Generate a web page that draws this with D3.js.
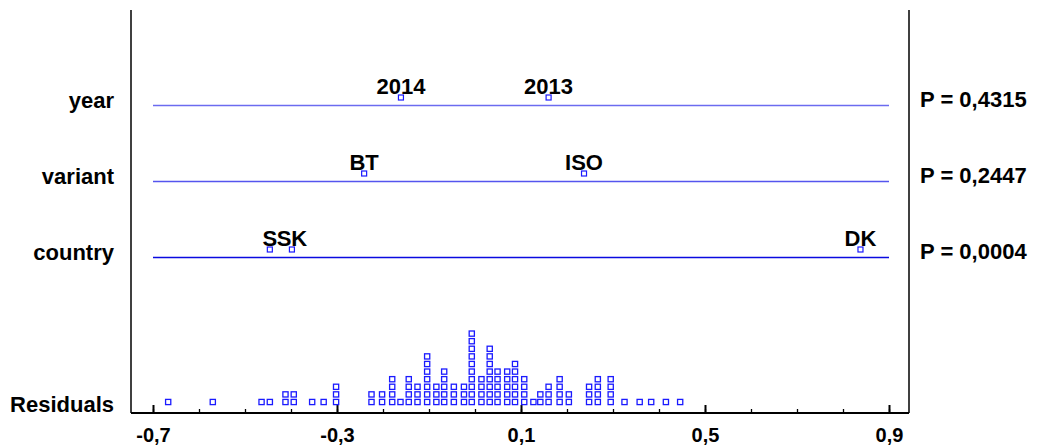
<!DOCTYPE html>
<html>
<head>
<meta charset="utf-8">
<script src="https://cdn.jsdelivr.net/npm/d3@7/dist/d3.min.js"></script>
<style>
  html, body { margin: 0; padding: 0; background: #fff; }
  svg { display: block; }
  text { font-family: "Liberation Sans", Arial, sans-serif; font-weight: bold; fill: #000; }
</style>
</head>
<body>
<svg id="chart" width="1037" height="448"></svg>
<script>
// Effects in the model and their p-values
const effectNames = ["year", "variant", "country"];
const pValues = ["0,4315", "0,2447", "0,0004"];
const effectColors = ["#6b6bf0", "#5555ee", "#0a0ae0"];

// Estimated level effects per factor
const yearLevels = ["2014", "2013"];
const yearEffects = [-0.161, 0.160];
const variantLevels = ["BT", "ISO"];
const variantEffects = [-0.241, 0.237];
const countryLevels = ["S", "SK", "DK"];
const countryEffects = [-0.446, -0.398, 0.838];

// Residual dot plot: bin centres and number of residuals in each bin
const residualBins = [-0.667, -0.570, -0.464, -0.446, -0.412, -0.394, -0.354, -0.329, -0.302,
  -0.225, -0.202, -0.180, -0.162, -0.144, -0.125, -0.104, -0.084, -0.067, -0.046, -0.024,
  -0.007, 0.014, 0.032, 0.049, 0.070, 0.087, 0.107, 0.127, 0.142, 0.160, 0.184, 0.204,
  0.248, 0.267, 0.295, 0.325, 0.358, 0.383, 0.415, 0.446];
const residualCounts = [1, 1, 1, 1, 2, 2, 1, 1, 3,
  2, 2, 4, 1, 4, 3, 7, 3, 5, 3, 3,
  10, 4, 8, 5, 5, 6, 4, 1, 2, 3, 4, 2,
  3, 4, 4, 1, 1, 1, 1, 1];

// Axis ticks
const majorTicks = [-0.7, -0.3, 0.1, 0.5, 0.9];
const minorTicks = [-0.7, -0.6, -0.5, -0.4, -0.3, -0.2, -0.1, 0, 0.1, 0.2, 0.3, 0.4, 0.5, 0.6, 0.7, 0.8, 0.9];

const svg = d3.select("#chart");
const frame = { left: 131, right: 909, top: 10, bottom: 413 };
const labelSize = 22;

const x = d3.scaleLinear().domain([-0.7, 0.9]).range([153, 889]);
const rowY = d3.scalePoint().domain(effectNames).range([105.5, 257.5]);
const stackY = d3.scaleLinear().domain([0, 10]).range([402, 326]);

const locale = d3.formatLocale({ decimal: ",", thousands: ".", grouping: [3], currency: ["", ""], minus: "-" });
const fmt = locale.format(".1f");

// Frame: side lines and bottom axis line
svg.append("line").attr("x1", frame.left).attr("x2", frame.left)
  .attr("y1", frame.top).attr("y2", frame.bottom).attr("stroke", "#000").attr("stroke-width", 1.5);
svg.append("line").attr("x1", frame.right).attr("x2", frame.right)
  .attr("y1", frame.top).attr("y2", frame.bottom).attr("stroke", "#000").attr("stroke-width", 1.5);
svg.append("line").attr("x1", frame.left).attr("x2", frame.right)
  .attr("y1", frame.bottom).attr("y2", frame.bottom).attr("stroke", "#000").attr("stroke-width", 2);

// Minor ticks
const minorAxis = d3.axisBottom(x).tickValues(minorTicks).tickSizeInner(-4).tickSizeOuter(0).tickFormat("");
svg.append("g").attr("transform", `translate(0,${frame.bottom})`).call(minorAxis)
  .call(g => g.select(".domain").remove())
  .call(g => g.selectAll(".tick line").attr("stroke", "#000").attr("stroke-width", 1.3));

// Major ticks with labels
const majorAxis = d3.axisBottom(x).tickValues(majorTicks).tickSizeInner(-8).tickSizeOuter(0)
  .tickPadding(15).tickFormat(fmt);
svg.append("g").attr("transform", `translate(0,${frame.bottom})`).call(majorAxis)
  .call(g => g.select(".domain").remove())
  .call(g => g.selectAll(".tick line").attr("stroke", "#000").attr("stroke-width", 2))
  .call(g => g.selectAll(".tick text").attr("font-size", 20)
    .attr("font-family", "'Liberation Sans', Arial, sans-serif").attr("font-weight", "bold").attr("fill", "#000"));

// Effect rows
const rows = [
  { name: "year", levels: yearLevels, effects: yearEffects },
  { name: "variant", levels: variantLevels, effects: variantEffects },
  { name: "country", levels: countryLevels, effects: countryEffects }
];

rows.forEach((row, i) => {
  const y0 = rowY(row.name);
  svg.append("line").attr("x1", x(-0.7)).attr("x2", x(0.9))
    .attr("y1", y0).attr("y2", y0).attr("stroke", effectColors[i]).attr("stroke-width", 1.6);

  svg.append("text").attr("x", 114).attr("y", y0 + 2).attr("text-anchor", "end")
    .attr("font-size", labelSize).text(row.name);

  svg.append("text").attr("x", 920).attr("y", y0 + 1).attr("text-anchor", "start")
    .attr("font-size", labelSize).text("P = " + pValues[i]);

  const pts = row.levels.map((lv, j) => ({ label: lv, v: row.effects[j] }));
  svg.selectAll(null).data(pts).enter().append("rect")
    .attr("x", d => x(d.v) - 2.5).attr("y", y0 - 8 - 2.5)
    .attr("width", 5).attr("height", 5)
    .attr("fill", "#fff").attr("stroke", "#1a1aff").attr("stroke-width", 1.2);
  svg.selectAll(null).data(pts).enter().append("text")
    .attr("x", d => x(d.v)).attr("y", y0 - 11.5).attr("text-anchor", "middle")
    .attr("font-size", labelSize).text(d => d.label);
});

// Residuals label and dot plot
svg.append("text").attr("x", 114).attr("y", 412).attr("text-anchor", "end")
  .attr("font-size", labelSize).text("Residuals");

const dots = [];
residualBins.forEach((b, i) => {
  for (let k = 0; k < residualCounts[i]; k++) dots.push({ v: b, k });
});
svg.selectAll(null).data(dots).enter().append("rect")
  .attr("x", d => x(d.v) - 2.6).attr("y", d => stackY(d.k) - 2.6)
  .attr("width", 5.2).attr("height", 5.2)
  .attr("fill", "#fff").attr("stroke", "#1a1aff").attr("stroke-width", 1.3);
</script>
</body>
</html>
